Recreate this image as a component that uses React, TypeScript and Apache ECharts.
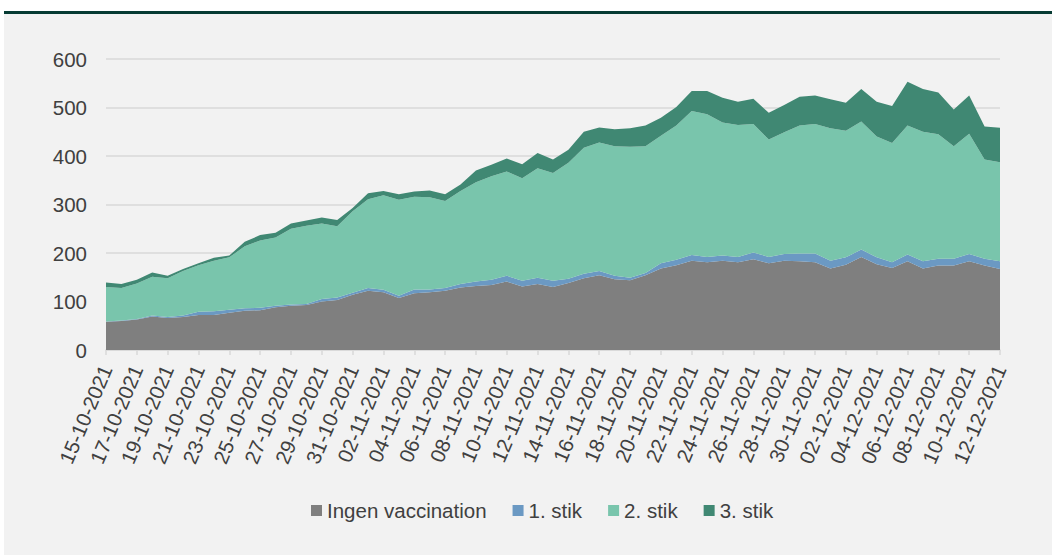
import React, { useEffect, useRef } from "react";
import * as echarts from "echarts";

const dates = [
  "15-10-2021","16-10-2021","17-10-2021","18-10-2021","19-10-2021","20-10-2021","21-10-2021","22-10-2021","23-10-2021","24-10-2021",
  "25-10-2021","26-10-2021","27-10-2021","28-10-2021","29-10-2021","30-10-2021","31-10-2021","01-11-2021","02-11-2021","03-11-2021",
  "04-11-2021","05-11-2021","06-11-2021","07-11-2021","08-11-2021","09-11-2021","10-11-2021","11-11-2021","12-11-2021","13-11-2021",
  "14-11-2021","15-11-2021","16-11-2021","17-11-2021","18-11-2021","19-11-2021","20-11-2021","21-11-2021","22-11-2021","23-11-2021",
  "24-11-2021","25-11-2021","26-11-2021","27-11-2021","28-11-2021","29-11-2021","30-11-2021","01-12-2021","02-12-2021","03-12-2021",
  "04-12-2021","05-12-2021","06-12-2021","07-12-2021","08-12-2021","09-12-2021","10-12-2021","11-12-2021","12-12-2021",
];

const ingenVaccination = [
  58,60,63,69,66,68,72,72,77,81,82,88,91,93,100,103,114,122,119,107,117,119,122,129,132,134,141,131,136,130,
  138,148,154,146,144,154,168,175,184,181,184,181,187,179,184,183,181,168,176,192,177,169,183,168,174,174,183,174,167,
];
const stik1 = [
  1,1,1,2,2,3,7,8,6,5,5,3,3,2,5,5,4,6,5,5,8,6,6,7,9,11,12,12,13,13,
  9,9,9,7,5,5,11,11,12,11,11,11,14,13,14,16,18,16,15,15,14,12,14,15,14,14,15,14,16,
];
const stik2 = [
  71,67,73,80,80,92,96,104,108,128,139,141,156,161,156,147,168,183,195,198,191,190,179,192,205,213,215,211,226,222,
  239,260,265,267,270,261,263,277,297,294,274,272,265,242,251,264,267,273,261,264,249,246,266,267,257,232,248,205,204,
];
const stik3 = [
  9,8,8,9,5,4,4,6,4,9,11,10,11,11,12,13,7,12,9,11,11,14,14,13,24,24,27,29,31,28,
  27,33,31,35,38,43,37,38,41,48,51,48,52,55,56,59,59,60,58,67,72,76,90,88,86,76,79,68,71,
];

const seriesNames = ["Ingen vaccination", "1. stik", "2. stik", "3. stik"];
const seriesColors = ["#7f7f7f", "#6b99c3", "#79c5ac", "#408873"];

export default function App() {
  const ref = useRef<HTMLDivElement>(null);
  useEffect(() => {
    if (!ref.current) return;
    const chart = echarts.init(ref.current, null, { renderer: "svg" });
    const dataSets = [ingenVaccination, stik1, stik2, stik3];
    const fontFamily = "'Liberation Sans', Arial, sans-serif";
    chart.setOption({
      animation: false,
      textStyle: { fontFamily },
      grid: { left: 106, right: 52, top: 59, bottom: 205, containLabel: false },
      legend: {
        left: 306,
        top: 495,
        icon: "rect",
        itemWidth: 11,
        itemHeight: 11,
        itemGap: 26,
        textStyle: { fontSize: 20.5, color: "#404040", fontFamily },
        data: seriesNames,
      },
      xAxis: {
        type: "category",
        boundaryGap: false,
        data: dates,
        axisLine: { lineStyle: { color: "#d9d9d9", width: 1.5 } },
        axisTick: { show: true, interval: 1, length: 5, lineStyle: { color: "#d9d9d9", width: 1.5 } },
        axisLabel: { interval: 1, rotate: 67, fontSize: 20.5, color: "#404040", margin: 16, fontFamily },
      },
      yAxis: {
        type: "value",
        min: 0,
        max: 600,
        interval: 100,
        axisLine: { show: false },
        axisTick: { show: false },
        axisLabel: { fontSize: 20.5, color: "#404040", margin: 19, fontFamily },
        splitLine: { lineStyle: { color: "#d9d9d9", width: 1.5 } },
      },
      series: seriesNames.map((name, i) => ({
        name,
        type: "line",
        stack: "total",
        data: dataSets[i],
        symbol: "none",
        lineStyle: { width: 0 },
        areaStyle: { color: seriesColors[i], opacity: 1 },
        itemStyle: { color: seriesColors[i] },
      })),
    });
    return () => chart.dispose();
  }, []);

  return (
    <div style={{ position: "absolute", left: 0, top: 0, width: 1052, height: 555, background: "#ffffff" }}>
      <div style={{ position: "absolute", left: 4, top: 11, width: 1048, height: 3, background: "#063b33" }} />
      <div style={{ position: "absolute", left: 4, top: 14, width: 1048, height: 541, background: "#f2f2f2" }} />
      <div ref={ref} style={{ position: "absolute", left: 0, top: 0, width: 1052, height: 555 }} />
    </div>
  );
}
